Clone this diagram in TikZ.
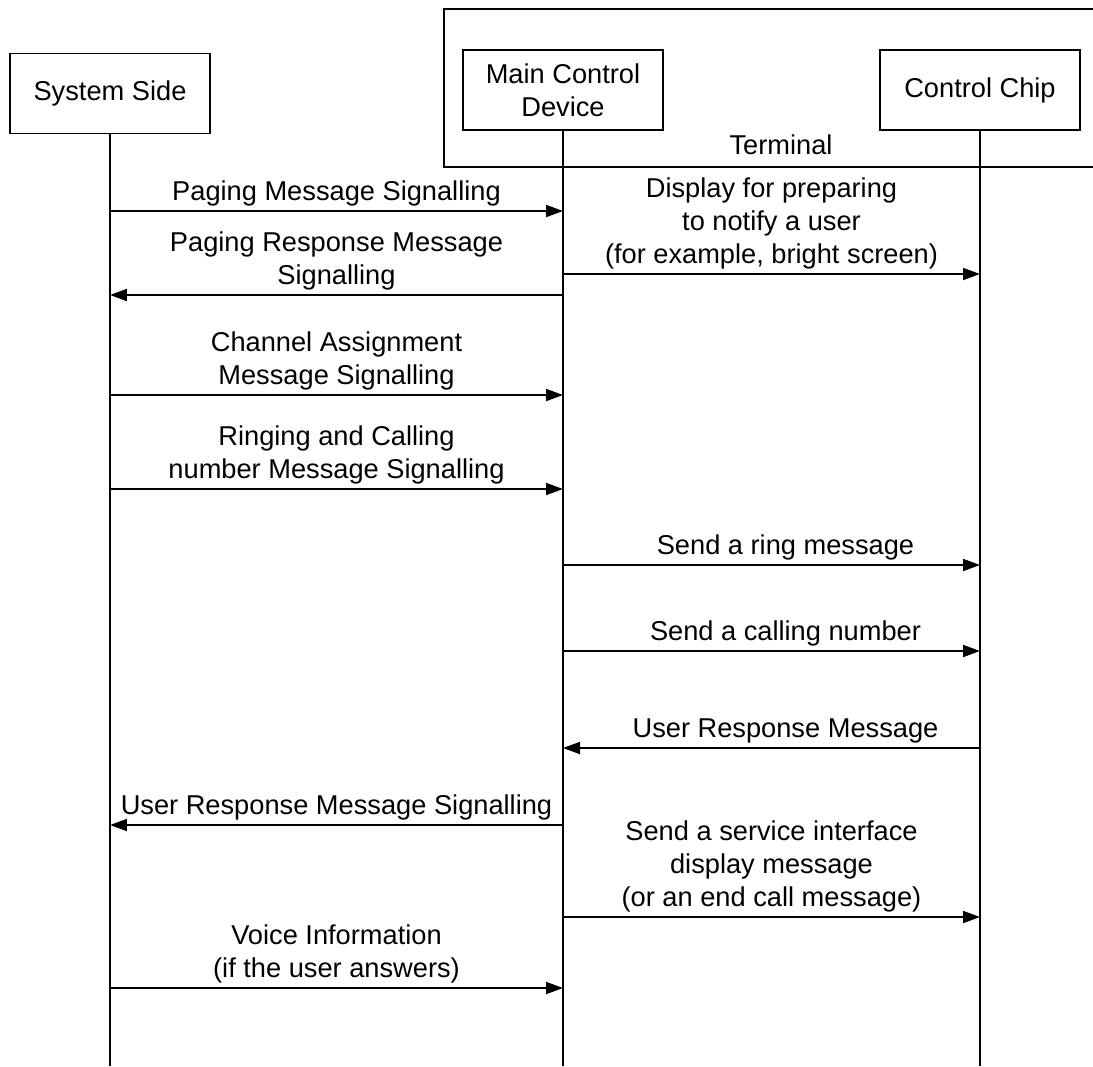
\documentclass[tikz,border=0pt]{standalone}
\usepackage{fontspec}
\setmainfont{Liberation Sans}
\usetikzlibrary{arrows.meta}
\tikzset{
  actor/.style={draw,line width=1pt,minimum width=4cm,minimum height=1.6cm,align=center,inner sep=2pt},
  life/.style={line width=1pt},
  msg/.style={line width=1.1pt,-{Triangle[length=0.34cm,width=0.24cm]}},
  lbl/.style={above,align=center,inner sep=2pt},
}
\begin{document}
\begin{tikzpicture}[x=0.02cm,y=-0.02cm,font=\fontsize{15.5pt}{19pt}\selectfont]
   \useasboundingbox (0,0) rectangle (1093,1066);
   % terminal frame
   \draw [line width=1pt] (1093,9) -- (444,9) -- (444,167) -- (1093,167);
   \node (term) at (781,145) {Terminal};
   % participants
   \node [actor] (sys) at (110,93.5) {System Side};
   \node [actor] (mcd) at (563,90) {Main Control\\Device};
   \node [actor] (chip) at (980,90) {Control Chip};
   \coordinate (sysend) at (110,1066);
   \coordinate (mcdend) at (563,1066);
   \coordinate (chipend) at (980,1066);
   \draw [life] (sys) -- (sysend);
   \draw [life] (mcd) -- (mcdend);
   \draw [life] (chip) -- (chipend);
   % message rows
   \coordinate (r1) at (0,211);
   \coordinate (r2) at (0,274);
   \coordinate (r3) at (0,295);
   \coordinate (r4) at (0,395);
   \coordinate (r5) at (0,489);
   \coordinate (r6) at (0,565);
   \coordinate (r7) at (0,651);
   \coordinate (r8) at (0,748);
   \coordinate (r9) at (0,825);
   \coordinate (r10) at (0,917);
   \coordinate (r11) at (0,988);
   \draw [msg] (sys |- r1) -- node [lbl] {Paging Message Signalling} (mcd |- r1);
   \draw [msg] (mcd |- r2) -- node [lbl] {Display for preparing\\to notify a user\\(for example, bright screen)} (chip |- r2);
   \draw [msg] (mcd |- r3) -- node [lbl] {Paging Response Message\\Signalling} (sys |- r3);
   \draw [msg] (sys |- r4) -- node [lbl] {Channel Assignment\\Message Signalling} (mcd |- r4);
   \draw [msg] (sys |- r5) -- node [lbl] {Ringing and Calling\\number Message Signalling} (mcd |- r5);
   \draw [msg] (mcd |- r6) -- node [lbl,xshift=0.28cm] {Send a ring message} (chip |- r6);
   \draw [msg] (mcd |- r7) -- node [lbl,xshift=0.28cm] {Send a calling number} (chip |- r7);
   \draw [msg] (chip |- r8) -- node [lbl,xshift=0.28cm] {User Response Message} (mcd |- r8);
   \draw [msg] (mcd |- r9) -- node [lbl] {User Response Message Signalling} (sys |- r9);
   \draw [msg] (mcd |- r10) -- node [lbl] {Send a service interface\\display message\\(or an end call message)} (chip |- r10);
   \draw [msg] (sys |- r11) -- node [lbl] {Voice Information\\(if the user answers)} (mcd |- r11);
\end{tikzpicture}
\end{document}
